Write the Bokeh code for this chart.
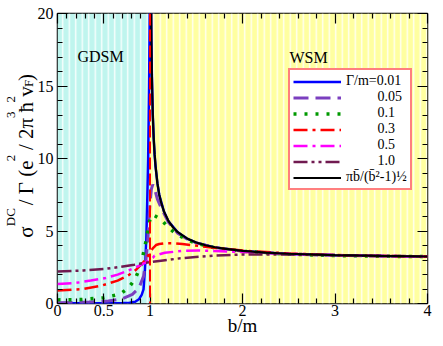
from bokeh.plotting import figure
from bokeh.models import (Range1d, FixedTicker, LinearAxis, Label, Legend,
                          LegendItem, Span)
from bokeh.embed import file_html
from bokeh.resources import INLINE

# ---------------- data ----------------
x_lim = [0, 4]
y_lim = [0, 20]
region_left = [0, 1]
region_right = [1, 4]
region_names = ["GDSM", "WSM"]
gap_edge = 1.0

x_major = [0, 0.5, 1, 2, 3, 4]
x_tick_labels = ["0", "0.5", "1", "2", "3", "4"]
x_minor = [0.1, 0.2, 0.3, 0.4, 0.6, 0.7, 0.8, 0.9,
           1.2, 1.4, 1.6, 1.8, 2.2, 2.4, 2.6, 2.8, 3.2, 3.4, 3.6, 3.8]
y_major = [0, 5, 10, 15, 20]
y_minor = [1, 2, 3, 4, 6, 7, 8, 9, 11, 12, 13, 14, 16, 17, 18, 19]

b_001 = [0, 0.2, 0.4, 0.6, 0.7, 0.78, 0.84, 0.88, 0.91, 0.93, 0.945, 0.96,
         0.97, 0.98, 0.99, 1.0, 1.01, 1.015, 1.02, 1.03, 1.04, 1.05, 1.06,
         1.08, 1.1, 1.15, 1.2, 1.3, 1.4, 1.5, 1.7, 2.0, 2.5, 3.0, 3.5, 4.0]
s_001 = [0.01, 0.01, 0.01, 0.02, 0.03, 0.05, 0.12, 0.29, 0.6, 0.97, 2.33, 4.4,
         7.0, 10.0, 15.0, 22.0, 22.0, 18.2, 15.8, 13.0, 11.4, 10.25, 9.45,
         8.3, 7.5, 6.35, 5.67, 4.91, 4.48, 4.2, 3.87, 3.62, 3.42, 3.33, 3.27, 3.24]

b_005 = [0, 0.34, 0.55, 0.7, 0.81, 0.88, 0.93, 0.96, 0.975, 0.99, 1.0, 1.015,
         1.03, 1.05, 1.08, 1.12, 1.16, 1.2, 1.3, 1.4, 1.5, 1.7, 2.0, 2.5, 3.0,
         3.5, 4.0]
s_005 = [0.05, 0.1, 0.17, 0.33, 0.63, 1.07, 1.87, 3.2, 4.3, 5.9, 6.9, 7.9,
         8.2, 7.9, 7.2, 6.6, 6.1, 5.6, 4.85, 4.45, 4.18, 3.86, 3.61, 3.41, 3.32,
         3.27, 3.24]

b_01 = [0, 0.25, 0.5, 0.68, 0.77, 0.84, 0.9, 0.93, 0.96, 0.985, 1.0, 1.02,
        1.05, 1.12, 1.19, 1.28, 1.4, 1.5, 1.7, 2.0, 2.5, 3.0, 3.5, 4.0]
s_01 = [0.25, 0.27, 0.4, 0.65, 1.1, 1.7, 2.6, 3.5, 4.4, 5.4, 5.8, 6.1,
        6.05, 5.8, 5.3, 4.8, 4.4, 4.15, 3.84, 3.6, 3.4, 3.31, 3.26, 3.23]

b_03 = [0, 0.28, 0.48, 0.65, 0.76, 0.85, 0.92, 0.97, 1.0, 1.03, 1.065, 1.1,
        1.16, 1.26, 1.35, 1.45, 1.55, 1.77, 2.0, 2.5, 3.0, 3.5, 4.0]
s_03 = [0.9, 1.0, 1.24, 1.58, 1.92, 2.33, 2.78, 3.2, 3.5, 3.8, 4.03, 4.1,
        4.15, 4.15, 4.1, 4.03, 3.95, 3.8, 3.65, 3.45, 3.34, 3.28, 3.24]

b_05 = [0, 0.2, 0.36, 0.52, 0.65, 0.76, 0.85, 0.94, 1.03, 1.05, 1.16, 1.34,
        1.52, 1.7, 2.0, 2.5, 3.0, 3.5, 4.0]
s_05 = [1.35, 1.42, 1.58, 1.76, 1.99, 2.26, 2.5, 2.78, 3.15, 3.3, 3.5, 3.62,
        3.66, 3.62, 3.55, 3.43, 3.34, 3.28, 3.24]

b_10 = [0, 0.28, 0.52, 0.65, 0.83, 0.94, 1.0, 1.12, 1.33, 1.69, 2.0, 2.5,
        3.0, 3.5, 4.0]
s_10 = [2.21, 2.28, 2.39, 2.5, 2.67, 2.8, 2.85, 2.95, 3.12, 3.3, 3.38, 3.38,
        3.33, 3.28, 3.25]

b_lim = [1.01, 1.015, 1.02, 1.03, 1.04, 1.05, 1.06, 1.08, 1.1, 1.12, 1.15,
         1.2, 1.25, 1.3, 1.4, 1.5, 1.6, 1.7, 1.8, 2.0, 2.25, 2.5, 3.0, 3.5, 4.0]
s_lim = [22.2, 18.3, 15.9, 13.1, 11.4, 10.3, 9.47, 8.3, 7.5, 6.98, 6.36,
         5.68, 5.24, 4.92, 4.49, 4.21, 4.02, 3.88, 3.78, 3.63, 3.51, 3.43,
         3.33, 3.28, 3.24]

series_labels = ["\u0393/m=0.01", "0.05", "0.1", "0.3", "0.5", "1.0",
                 "\u03c0b\u0304/(b\u0304\u00b2-1)\u00bd"]

# y-axis title: main-line text, or (gap in spaces, script piece, kind)
title_parts = ["\u03c3", (4, "DC", "sup"), "/ \u0393 (e", (2, "2", "sup"),
               "/", (1, None, None), "2\u03c0", (1, "3", "sup"), "\u0127",
               (1, "2", "sup"), "v", (1, "F", "sub"), ")"]

# ---------------- layout ----------------
FONT = "Liberation Serif"
W, H = 435, 338
FL, FR, FT, FB = 57, 427, 13, 307   # frame edges in canvas pixels
MAIN_FS, SCRIPT_FS = 21, 13
NBSP = "\u00a0"
ADV = {"\u03c3": 0.55, "/": 0.278, " ": 0.25, NBSP: 0.25, "\u0393": 0.578,
       "(": 0.333, ")": 0.333, "e": 0.444, "2": 0.5, "3": 0.5, "\u03c0": 0.55,
       "\u0127": 0.5, "v": 0.5, "D": 0.722, "C": 0.667, "F": 0.556}
SIGMA_BOTTOM = 240.0


def text_w(s, fs):
    return sum(ADV.get(c, 0.5) for c in s) * fs


def vy(sy):
    return round(y_lim[0] + (FB - sy) * (y_lim[1] - y_lim[0]) / (FB - FT), 4)


# lay the title out upward from the bottom of the sigma
cursor = SIGMA_BOTTOM
body = ""
scripts = {"sup": [], "sub": []}
for part in title_parts:
    if isinstance(part, str):
        body += part.replace(" ", NBSP)
        cursor -= text_w(part, MAIN_FS)
    else:
        n, piece, kind = part
        if piece is not None:
            scripts[kind].append((piece, cursor - text_w(piece, SCRIPT_FS) / 2))
        body += NBSP * n
        cursor -= n * 0.25 * MAIN_FS
# the axis title is centred on the frame: pad its start so sigma lands in place
visible = SIGMA_BOTTOM - cursor
lead = max(0, round((visible - 2 * (SIGMA_BOTTOM - (FT + FB) / 2)) / (0.25 * MAIN_FS)))
main_text = NBSP * lead + body

p = figure(width=W, height=H, output_backend="svg", toolbar_location=None,
           x_range=Range1d(*x_lim), y_range=Range1d(*y_lim),
           min_border_left=FL, min_border_right=W - FR,
           min_border_top=FT, min_border_bottom=H - FB)
p.grid.visible = False
p.outline_line_color = "black"
p.outline_line_width = 1.5
p.background_fill_color = "white"

# background regions
p.quad(left=region_left, right=region_right, bottom=[y_lim[0]] * 2,
       top=[y_lim[1]] * 2, fill_color=["#bff5ee", "#ffffa0"], line_color=None,
       hatch_pattern="vertical_line", hatch_color="white", hatch_scale=6.5,
       hatch_weight=1.4, hatch_alpha=0.9)

xt = FixedTicker(ticks=x_major, minor_ticks=x_minor)
yt = FixedTicker(ticks=y_major, minor_ticks=y_minor)


def style_axis(ax, labels=True):
    ax.axis_line_color = None
    ax.major_tick_in = 10
    ax.major_tick_out = 0
    ax.minor_tick_in = 5
    ax.minor_tick_out = 0
    ax.major_tick_line_width = 1.2
    ax.minor_tick_line_width = 1.2
    ax.major_tick_line_color = "black"
    ax.minor_tick_line_color = "black"
    if labels:
        ax.major_label_text_font = FONT
        ax.major_label_text_font_size = "16px"
        ax.major_label_text_color = "black"
    else:
        ax.major_label_text_font_size = "1px"
        ax.major_label_text_color = None
        ax.major_label_standoff = 0


p.xaxis.ticker = xt
p.yaxis.ticker = yt
p.xaxis.major_label_overrides = dict(zip(x_major, x_tick_labels))
style_axis(p.xaxis[0])
style_axis(p.yaxis[0])
p.xaxis.major_label_standoff = 1
p.yaxis.major_label_standoff = 4
p.xaxis.axis_label = "b/m"
p.xaxis.axis_label_text_font = FONT
p.xaxis.axis_label_text_font_size = "19px"
p.xaxis.axis_label_text_font_style = "normal"
p.xaxis.axis_label_text_color = "black"
p.xaxis.axis_label_standoff = -4

p.yaxis.axis_label = main_text
p.yaxis.axis_label_text_font = FONT
p.yaxis.axis_label_text_font_size = f"{MAIN_FS}px"
p.yaxis.axis_label_text_font_style = "normal"
p.yaxis.axis_label_text_color = "black"
p.yaxis.axis_label_standoff = -3

top_ax = LinearAxis(ticker=xt)
right_ax = LinearAxis(ticker=yt)
style_axis(top_ax, labels=False)
style_axis(right_ax, labels=False)
p.add_layout(top_ax, "above")
p.add_layout(right_ax, "right")


def script_axis(pieces, standoff):
    ticks = [vy(sy) for _, sy in pieces]
    ax = LinearAxis(ticker=FixedTicker(ticks=ticks, minor_ticks=[]))
    ax.major_label_overrides = {t: txt for t, (txt, _) in zip(ticks, pieces)}
    ax.axis_line_color = None
    ax.major_tick_line_color = None
    ax.minor_tick_line_color = None
    ax.major_tick_out = 0
    ax.major_tick_in = 0
    ax.major_label_orientation = "parallel"
    ax.major_label_text_font = FONT
    ax.major_label_text_font_size = f"{SCRIPT_FS}px"
    ax.major_label_text_color = "black"
    ax.major_label_standoff = standoff
    p.add_layout(ax, "left")


script_axis(scripts["sup"], -8)    # superscripts, outside the main line
script_axis(scripts["sub"], -36)   # subscript, pulled back onto the main line

# curves
r1 = p.line(b_001, s_001, line_color="#0000ff", line_width=2.5)
r2 = p.line(b_005, s_005, line_color="#7b3fbf", line_width=3, line_dash="15 7")
r3 = p.line(b_01, s_01, line_color="#009900", line_width=3.5, line_dash="3 8")
r4 = p.line(b_03, s_03, line_color="#ff0000", line_width=2.5, line_dash="14 5 3 5")
r5 = p.line(b_05, s_05, line_color="#ff00ff", line_width=2.5, line_dash="14 5 3 5")
r6 = p.line(b_10, s_10, line_color="#701a50", line_width=2.5,
            line_dash="14 4 3 4 3 4")
r7 = p.line(b_lim, s_lim, line_color="black", line_width=2.2)

p.add_layout(Span(location=gap_edge, dimension="height", line_color="#ff0000",
                  line_width=2, line_dash="12 4"))

# region names (positions relative to frame, in pixels)
p.add_layout(Label(x=77 - FL, y=FB - 68, x_units="screen", y_units="screen",
                   text=region_names[0], text_font=FONT,
                   text_font_size="16px", text_color="black"))
p.add_layout(Label(x=289 - FL, y=FB - 69, x_units="screen", y_units="screen",
                   text=region_names[1], text_font=FONT,
                   text_font_size="16px", text_color="black"))

pad = NBSP * 9
labels = [series_labels[0]] + [pad + s for s in series_labels[1:6]] + [series_labels[6]]
items = [LegendItem(label=lab, renderers=[r])
         for lab, r in zip(labels, [r1, r2, r3, r4, r5, r6, r7])]
legend = Legend(items=items, location=(231, 113), border_line_color="#ff0000",
                border_line_width=2, background_fill_color="white",
                background_fill_alpha=1, glyph_width=48, glyph_height=13,
                label_height=13, label_standoff=5, padding=3, spacing=0,
                margin=0, label_text_font=FONT, label_text_font_size="14px",
                label_text_color="black")
p.add_layout(legend)

open("out.html", "w").write(file_html(p, INLINE))
